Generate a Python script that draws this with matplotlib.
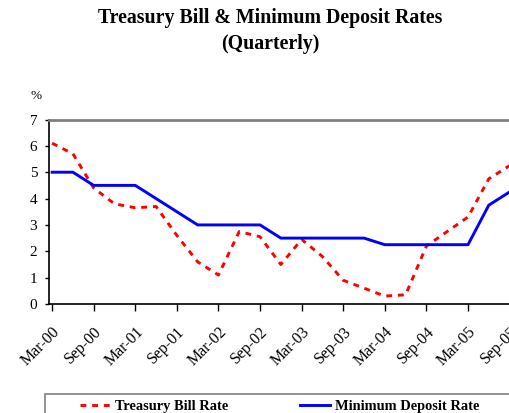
import matplotlib.pyplot as plt
from matplotlib.patches import Rectangle
import numpy as np

plt.rcParams['font.family'] = ['Liberation Serif', 'DejaVu Serif']

# quarterly, Mar-00 .. Sep-05
quarters = ['Mar-00', 'Jun-00', 'Sep-00', 'Dec-00', 'Mar-01', 'Jun-01', 'Sep-01', 'Dec-01',
            'Mar-02', 'Jun-02', 'Sep-02', 'Dec-02', 'Mar-03', 'Jun-03', 'Sep-03', 'Dec-03',
            'Mar-04', 'Jun-04', 'Sep-04', 'Dec-04', 'Mar-05', 'Jun-05', 'Sep-05']
tbill = [6.1, 5.7, 4.4, 3.8, 3.65, 3.7, 2.6, 1.6, 1.1, 2.75, 2.55, 1.5,
         2.45, 1.8, 0.9, 0.6, 0.3, 0.35, 2.2, 2.75, 3.3, 4.75, 5.25]
min_deposit = [5.0, 5.0, 4.5, 4.5, 4.5, 4.0, 3.5, 3.0, 3.0, 3.0, 3.0, 2.5,
               2.5, 2.5, 2.5, 2.5, 2.25, 2.25, 2.25, 2.25, 2.25, 3.75, 4.25]
yticks = [0, 1, 2, 3, 4, 5, 6, 7]

W, H = 510, 413
fig = plt.figure(figsize=(W / 100, H / 100), dpi=100)
ax = fig.add_axes([49 / W, 1 - 304 / H, 1 - 49 / W, (304 - 119.5) / H])

x = np.arange(len(quarters))
l1, = ax.plot(x, tbill, color='#ff0000', lw=2.1, linestyle=(0, (2, 2)),
              label='Treasury Bill Rate')
l2, = ax.plot(x, min_deposit, color='#0000ff', lw=2.1, label='Minimum Deposit Rate')

ax.set_xlim(-0.15, 22.02)
ax.set_ylim(0, 7)
ax.set_yticks(yticks)
ax.set_xticks(x[::2])
ax.set_xticklabels(quarters[::2], rotation=45, ha='right', va='top',
                   rotation_mode='anchor', fontsize=11.5)
ax.tick_params(axis='y', direction='out', length=3, width=1, labelsize=11, pad=5.5)
ax.tick_params(axis='x', direction='out', length=5, width=1, pad=9)

ax.spines['right'].set_visible(False)
ax.spines['top'].set_color('#808080')
ax.spines['top'].set_linewidth(2)
ax.spines['left'].set_linewidth(1.2)
ax.spines['bottom'].set_linewidth(1.2)

fig.text(36 / W, 1 - 96 / H, '%', fontsize=9.5, ha='center', va='center')

# title is centred on the full chart area, which is wider than the picture
fig.text(270 / W, 1 - 18.5 / H, 'Treasury Bill & Minimum Deposit Rates', ha='center',
         va='center', fontsize=14.3, fontweight='bold')
fig.text(270 / W, 1 - 44.5 / H, '(Quarterly)', ha='center', va='center',
         fontsize=14.3, fontweight='bold')

# legend box runs off the bottom/right of the picture
fig.patches.append(Rectangle((45 / W, -0.05), 1, 1 - 394 / H + 0.05, transform=fig.transFigure,
                             facecolor='white', edgecolor='#808080', lw=1.2))
leg = fig.legend(handles=[l1, l2], loc='center left', bbox_to_anchor=(80 / W, 1 - 406 / H),
                 ncol=2, frameon=False, prop={'size': 10.4, 'weight': 'bold'},
                 handlelength=2.1, handletextpad=0.3, columnspacing=5.0,
                 borderpad=0, borderaxespad=0)

fig.savefig('out.png', dpi=100)
